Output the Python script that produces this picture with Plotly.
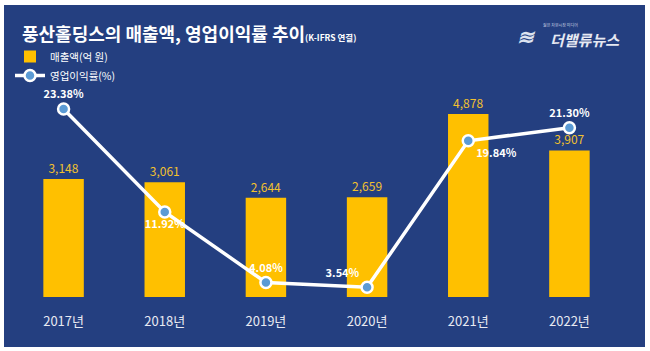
import plotly.graph_objects as go

years = ["2017년", "2018년", "2019년", "2020년", "2021년", "2022년"]
sales = [3148, 3061, 2644, 2659, 4878, 3907]
margin_pct = [23.38, 11.92, 4.08, 3.54, 19.84, 21.30]
sales_text = ["3,148", "3,061", "2,644", "2,659", "4,878", "3,907"]
margin_text = ["23.38%", "11.92%", "4.08%", "3.54%", "19.84%", "21.30%"]
margin_pos = ["top center", "bottom center", "top center", "top left", "bottom right", "top center"]

W, H = 650, 351
L, R, T, B = 13, 30, 60, 54
pw, ph = W - L - R, H - T - B

BLUE = "#243F80"
FONT = "Noto Sans CJK KR"

fig = go.Figure()
fig.add_trace(go.Bar(
    x=years, y=sales, name="매출액(억 원)",
    marker=dict(color="#FFC000", line=dict(width=0)),
    text=sales_text, textposition="outside",
    textfont=dict(color="#F2C12E", size=12, family=FONT),
    cliponaxis=False,
))
fig.add_trace(go.Scatter(
    x=years, y=margin_pct, name="영업이익률(%)", yaxis="y2",
    mode="lines+markers+text",
    line=dict(color="white", width=3.5),
    marker=dict(size=11, color="#5B9BD5", line=dict(color="white", width=2.5)),
    text=margin_text, textposition=margin_pos,
    textfont=dict(color="white", size=11, family=FONT, weight="bold"),
    cliponaxis=False,
))

def px_x(p):
    return (p - L) / pw

def px_y(p):
    return (H - B - p) / ph

fig.add_shape(type="rect", xref="paper", yref="paper",
              x0=px_x(4), x1=px_x(645), y0=px_y(347), y1=px_y(5),
              fillcolor=BLUE, line=dict(width=0), layer="below")

fig.add_annotation(xref="paper", yref="paper", x=px_x(20), y=px_y(33),
                   xanchor="left", yanchor="middle", showarrow=False,
                   text="<b>풍산홀딩스의 매출액, 영업이익률 추이</b><b><span style='font-size:8.5px'>(K-IFRS 연결)</span></b>",
                   font=dict(color="white", size=18, family=FONT))
fig.add_annotation(xref="paper", yref="paper", x=px_x(622), y=px_y(40),
                   xanchor="right", yanchor="middle", showarrow=False,
                   text="<b><i>더밸류뉴스</i></b>",
                   font=dict(color="#E6E9F2", size=15, family=FONT))
fig.add_annotation(xref="paper", yref="paper", x=px_x(541), y=px_y(25),
                   xanchor="left", yanchor="middle", showarrow=False,
                   text="젊은 자본시장 미디어",
                   font=dict(color="#C8CFE0", size=4, family=FONT))
fig.add_annotation(xref="paper", yref="paper", x=px_x(526), y=px_y(36),
                   xanchor="center", yanchor="middle", showarrow=False,
                   text="<b><i>≋</i></b>",
                   font=dict(color="#DDE3F0", size=20, family=FONT))

fig.update_layout(
    width=W, height=H,
    margin=dict(l=L, r=R, t=T, b=B, autoexpand=False),
    paper_bgcolor="white", plot_bgcolor="rgba(0,0,0,0)",
    bargap=0.6,
    showlegend=True,
    legend=dict(xref="container", yref="container", x=10 / W, y=1 - 42 / H,
                xanchor="left", yanchor="top",
                bgcolor="rgba(0,0,0,0)", font=dict(color="white", size=10.5, family=FONT),
                itemwidth=30, tracegroupgap=0, traceorder="normal"),
    xaxis=dict(showgrid=False, zeroline=False, showline=False, ticks="",
               tickfont=dict(color="#E8EAF2", size=13, family=FONT),
               ticklabelstandoff=15, fixedrange=True),
    yaxis=dict(range=[0, 6317], visible=False, showgrid=False, zeroline=False),
    yaxis2=dict(range=[2.46, 28.83], overlaying="y", side="right",
                visible=False, showgrid=False, zeroline=False),
)

fig.write_html("out.html")
